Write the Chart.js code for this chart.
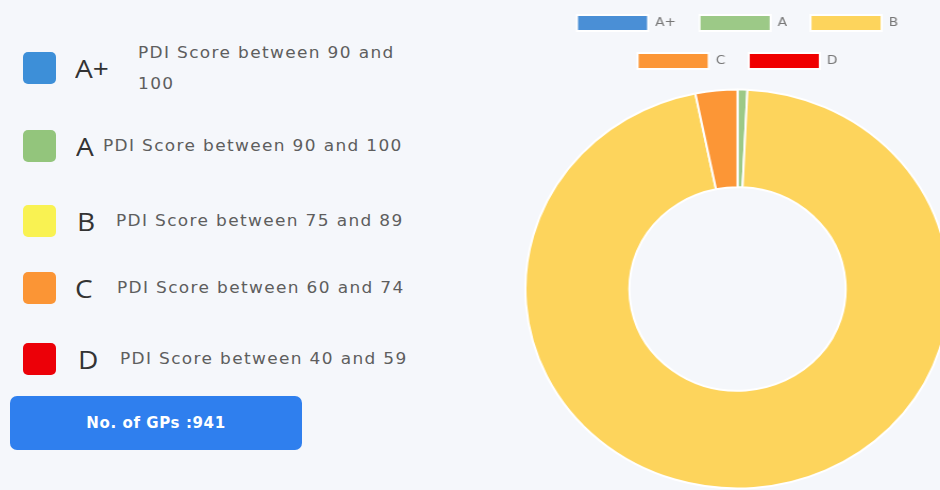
<!DOCTYPE html>
<html>
<head>
<meta charset="utf-8">
<script src="https://cdn.jsdelivr.net/npm/chart.js@4.4.0/dist/chart.umd.min.js"></script>
<style>
    html, body {
        margin: 0;
        padding: 0;
        width: 940px;
        height: 490px;
        overflow: hidden;
        background: #f5f7fb;
        font-family: "DejaVu Sans", sans-serif;
    }
    .grade-box {
        position: absolute;
        left: 23px;
        width: 33px;
        height: 32px;
        border-radius: 5px;
    }
    .grade-letter {
        position: absolute;
        font-family: "Open Sans", sans-serif;
        font-size: 26px;
        line-height: 30px;
        color: #333;
        transform: scaleX(1.08);
        transform-origin: left center;
    }
    .grade-desc {
        position: absolute;
        font-size: 15px;
        letter-spacing: 1.2px;
        line-height: 31px;
        color: #5e5e5e;
        width: 300px;
        transform: scaleX(1.13);
        transform-origin: left center;
    }
    .gp-count {
        position: absolute;
        left: 10px;
        top: 396px;
        width: 292px;
        height: 54px;
        border-radius: 7px;
        background: #2f7fee;
        color: #fff;
        font-weight: bold;
        font-size: 15px;
        letter-spacing: 0.6px;
        display: flex;
        align-items: center;
        justify-content: center;
    }
    .chart-wrap {
        position: absolute;
        left: 537px;
        top: -7px;
        width: 401px;
        height: 506px;
        transform: scaleX(1.063);
        transform-origin: center center;
    }
</style>
</head>
<body>
<div id="gradeList"></div>
<div class="gp-count" id="gpCount"></div>
<div class="chart-wrap"><canvas id="gradeChart"></canvas></div>

<script>
// Dados do gráfico
const grades = ['A+', 'A', 'B', 'C', 'D'];
const gpCounts = [0, 7, 904, 30, 0];
const gradeDescriptions = [
    'PDI Score between 90 and 100',
    'PDI Score between 90 and 100',
    'PDI Score between 75 and 89',
    'PDI Score between 60 and 74',
    'PDI Score between 40 and 59'
];
const chartColors = ['#4a8fd6', '#9cc987', '#fdd45c', '#fc9636', '#f00000'];
const boxColors = ['#3d8fd8', '#93c57c', '#f9f252', '#fb9535', '#ec0008'];

// Posições da legenda lateral
const boxTops = [52, 130, 205, 272, 343];
const letterLeft = [75, 76, 77, 75, 78];
const descLeft = [138, 103, 116, 117, 120];

const gradeList = document.getElementById('gradeList');
grades.forEach((grade, i) => {
    const mid = boxTops[i] + 16;
    const box = document.createElement('div');
    box.className = 'grade-box';
    box.style.top = boxTops[i] + 'px';
    box.style.background = boxColors[i];

    const letter = document.createElement('span');
    letter.className = 'grade-letter';
    letter.textContent = grade;
    letter.style.left = letterLeft[i] + 'px';
    letter.style.top = (mid - 15) + 'px';

    const desc = document.createElement('span');
    desc.className = 'grade-desc';
    desc.textContent = gradeDescriptions[i];
    desc.style.left = descLeft[i] + 'px';
    // A+ quebra em duas linhas
    desc.style.top = (i === 0 ? mid - 30 : mid - 15) + 'px';
    if (i === 0) desc.style.width = '230px';

    gradeList.appendChild(box);
    gradeList.appendChild(letter);
    gradeList.appendChild(desc);
});

const totalGPs = gpCounts.reduce((a, b) => a + b, 0);
document.getElementById('gpCount').textContent = 'No. of GPs :' + totalGPs;

// Gráfico de rosca
const ctx = document.getElementById('gradeChart').getContext('2d');
new Chart(ctx, {
    type: 'doughnut',
    data: {
        labels: grades,
        datasets: [{
            data: gpCounts,
            backgroundColor: chartColors,
            borderColor: '#ffffff',
            borderWidth: 2
        }]
    },
    options: {
        responsive: true,
        maintainAspectRatio: false,
        animation: false,
        cutout: '51%',
        plugins: {
            legend: {
                position: 'top',
                labels: {
                    boxWidth: 67,
                    boxHeight: 16,
                    padding: 22,
                    color: '#777',
                    font: { size: 13, family: 'DejaVu Sans' }
                }
            },
            tooltip: { enabled: false }
        }
    }
});
</script>
</body>
</html>
